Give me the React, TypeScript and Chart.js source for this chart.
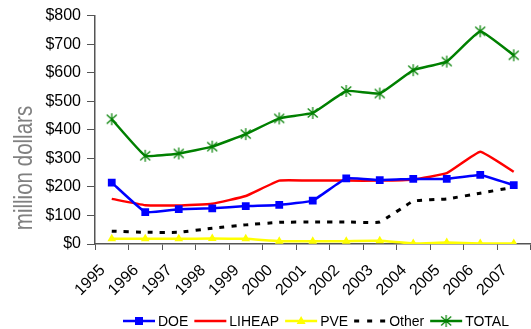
import React, { useEffect, useRef } from 'react';
import { Chart, registerables } from 'chart.js';

Chart.register(...registerables);

const years = ['1995', '1996', '1997', '1998', '1999', '2000', '2001', '2002', '2003', '2004', '2005', '2006', '2007'];
const doe = [215, 112, 122, 125, 133, 137, 152, 230, 224, 228, 228, 242, 206];
const liheap = [158, 136, 135, 141, 168, 222, 222, 222, 222, 226, 248, 323, 253];
const pve = [18, 18, 18, 19, 18, 10, 10, 10, 11, 2, 5, 2, 2];
const other = [45, 41, 41, 55, 67, 76, 77, 77, 77, 150, 158, 178, 199];
const total = [437, 309, 317, 341, 385, 440, 459, 536, 527, 609, 639, 745, 661];

const yMin = 0;
const yMax = 800;
const yStep = 100;
const yTitle = 'million dollars';

const FONT = "'Liberation Sans', Arial, sans-serif";

function makeStar(color: string): HTMLCanvasElement {
  const c = document.createElement('canvas');
  c.width = 14;
  c.height = 14;
  const g = c.getContext('2d')!;
  g.strokeStyle = color;
  g.lineWidth = 1.2;
  g.beginPath();
  g.moveTo(2, 2.5); g.lineTo(12, 11.5);
  g.moveTo(12, 2.5); g.lineTo(2, 11.5);
  g.moveTo(7, 1); g.lineTo(7, 13);
  g.stroke();
  return c;
}

export default function App() {
  const ref = useRef<HTMLCanvasElement>(null);

  useEffect(() => {
    const star = makeStar('#008000');
    const legendItems = [
      { label: 'DOE', color: '#0000FF', dash: [] as number[], marker: 'rect' },
      { label: 'LIHEAP', color: '#FF0000', dash: [] as number[], marker: 'none' },
      { label: 'PVE', color: '#FFFF00', dash: [] as number[], marker: 'triangle' },
      { label: 'Other', color: '#000000', dash: [5, 8], marker: 'none' },
      { label: 'TOTAL', color: '#008000', dash: [] as number[], marker: 'star' },
    ];

    const customPlugin = {
      id: 'custom',
      afterDraw(chart: any) {
        const ctx = chart.ctx as CanvasRenderingContext2D;
        ctx.save();
        ctx.translate(32, 168);
        ctx.rotate(-Math.PI / 2);
        ctx.scale(0.79, 1);
        ctx.font = `26px ${FONT}`;
        ctx.fillStyle = '#808080';
        ctx.textAlign = 'center';
        ctx.textBaseline = 'alphabetic';
        ctx.fillText(yTitle, 0, 0);
        ctx.restore();

        ctx.save();
        let x = 123;
        const y = 321;
        ctx.font = `14px ${FONT}`;
        for (const it of legendItems) {
          ctx.strokeStyle = it.color;
          ctx.lineWidth = it.label === 'Other' ? 3 : 2.5;
          ctx.setLineDash(it.dash);
          ctx.beginPath();
          ctx.moveTo(x, y);
          ctx.lineTo(x + 32, y);
          ctx.stroke();
          ctx.setLineDash([]);
          const cx = x + 16;
          if (it.marker === 'rect') {
            ctx.fillStyle = it.color;
            ctx.fillRect(cx - 4, y - 4, 8, 8);
          } else if (it.marker === 'triangle') {
            ctx.fillStyle = it.color;
            ctx.beginPath();
            ctx.moveTo(cx, y - 5);
            ctx.lineTo(cx + 4.5, y + 3);
            ctx.lineTo(cx - 4.5, y + 3);
            ctx.closePath();
            ctx.fill();
          } else if (it.marker === 'star') {
            ctx.drawImage(star, cx - 7, y - 7);
          }
          ctx.fillStyle = '#000';
          ctx.textAlign = 'left';
          ctx.textBaseline = 'middle';
          ctx.fillText(it.label, x + 35, y + 1);
          x += 35 + ctx.measureText(it.label).width + 6;
        }
        ctx.restore();
      },
    };

    const chart = new Chart(ref.current!, {
      type: 'line',
      data: {
        labels: years,
        datasets: [
          {
            label: 'DOE', data: doe, borderColor: '#0000FF', backgroundColor: '#0000FF',
            borderWidth: 2.5, pointStyle: 'rect', pointRadius: 5.5, pointBorderWidth: 0,
          },
          {
            label: 'LIHEAP', data: liheap, borderColor: '#FF0000', backgroundColor: '#FF0000',
            borderWidth: 2.5, pointRadius: 0,
          },
          {
            label: 'PVE', data: pve, borderColor: '#FFFF00', backgroundColor: '#FFFF00',
            borderWidth: 2.5, pointStyle: 'triangle', pointRadius: 5, pointBorderWidth: 0,
          },
          {
            label: 'Other', data: other, borderColor: '#000000', backgroundColor: '#000000',
            borderWidth: 3, borderDash: [5, 7], pointRadius: 0,
          },
          {
            label: 'TOTAL', data: total, borderColor: '#008000', backgroundColor: '#008000',
            borderWidth: 2.5, pointStyle: star as any, pointRadius: 7,
          },
        ],
      },
      options: {
        responsive: false,
        animation: false,
        layout: { padding: { top: 15, right: 3, left: 0, bottom: 0 } },
        elements: { line: { tension: 0.1 } },
        plugins: {
          legend: { display: false },
          tooltip: { enabled: false },
        },
        scales: {
          x: {
            offset: true,
            grid: { display: true, drawOnChartArea: false, offset: true, tickLength: 6, color: '#555' },
            border: { color: '#555', width: 1.5 },
            ticks: {
              color: '#000', font: { family: FONT, size: 16 }, padding: 11, labelOffset: -9,
              minRotation: 45, maxRotation: 45, autoSkip: false,
            },
            afterFit: (s: any) => { s.height = 85; },
          },
          y: {
            min: yMin, max: yMax,
            grid: { display: true, drawOnChartArea: false, tickLength: 8, color: '#555' },
            border: { color: '#555', width: 1.5 },
            ticks: {
              stepSize: yStep, color: '#000', padding: 6,
              font: { family: FONT, size: 16 },
              callback: (v: any) => '$' + v,
            },
            afterFit: (s: any) => { s.width = 95; },
          },
        },
      },
      plugins: [customPlugin],
    } as any);
    return () => chart.destroy();
  }, []);

  return (
    <div style={{ position: 'fixed', left: 0, top: 0, width: 531, height: 329, overflow: 'hidden', background: '#fff' }}>
      <canvas ref={ref} width={540} height={329} style={{ display: 'block' }} />
    </div>
  );
}
